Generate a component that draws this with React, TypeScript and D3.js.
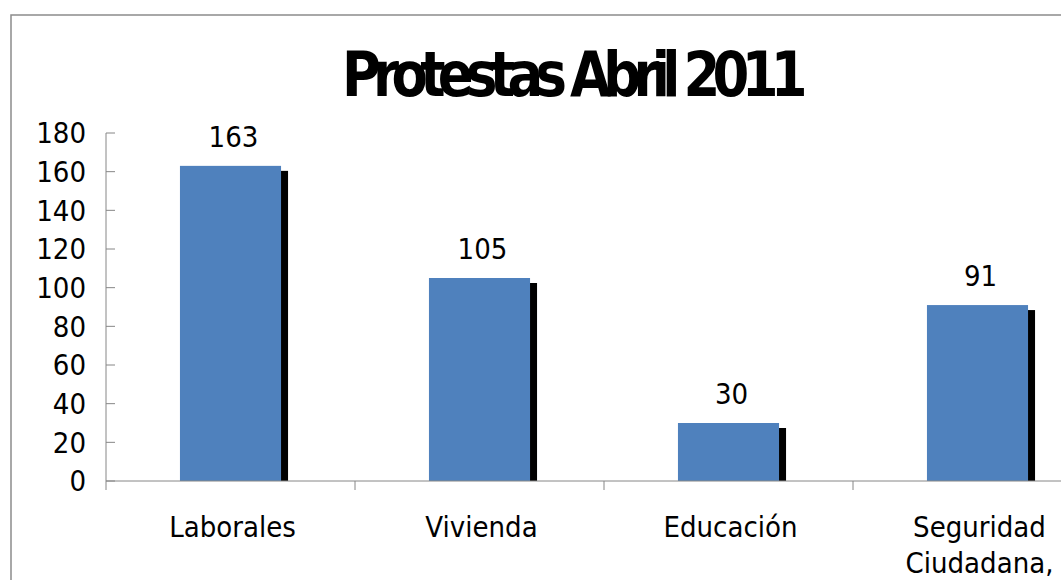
import * as d3 from "d3";
import { useEffect, useRef } from "react";

const categories = ["Laborales", "Vivienda", "Educación", "Seguridad Ciudadana,"];
const categoryLines = [["Laborales"], ["Vivienda"], ["Educación"], ["Seguridad", "Ciudadana,"]];
const values = [163, 105, 30, 91];
const yTicks = [0, 20, 40, 60, 80, 100, 120, 140, 160, 180];
const title = "Protestas Abril 2011";

const font = "'DejaVu Sans Condensed', 'DejaVu Sans', sans-serif";

const App = () => {
  const ref = useRef<SVGSVGElement>(null);

  useEffect(() => {
    const width = 1061,
      height = 580;
    const left = 106,
      top = 133,
      bottom = 481,
      step = 249;

    const svg = d3.select(ref.current);
    svg.selectAll("*").remove();

    // chart frame
    svg.append("rect")
      .attr("x", 11)
      .attr("y", 15)
      .attr("width", width + 20)
      .attr("height", height + 20)
      .attr("fill", "white")
      .attr("stroke", "#8c8c8c")
      .attr("stroke-width", 1.5);

    svg.append("text")
      .attr("x", 342)
      .attr("y", 96)
      .attr("textLength", 458)
      .attr("lengthAdjust", "spacingAndGlyphs")
      .attr("font-family", "'DejaVu Sans', sans-serif")
      .attr("font-weight", "bold")
      .attr("font-size", 62)
      .attr("letter-spacing", -9)
      .attr("fill", "black")
      .text(title);

    var x = d3.scaleBand()
      .domain(categories)
      .range([left, left + step * categories.length])
      .paddingInner(0.594)
      .paddingOuter(0.297);

    var y = d3.scaleLinear()
      .domain([0, 180])
      .range([bottom, top]);

    // y axis
    svg.append("line")
      .attr("x1", left).attr("x2", left)
      .attr("y1", y(180)).attr("y2", y(0))
      .attr("stroke", "#868686");
    svg.selectAll(".ytick")
      .data(yTicks)
      .enter().append("line")
      .attr("x1", left).attr("x2", left + 9)
      .attr("y1", d => y(d)).attr("y2", d => y(d))
      .attr("stroke", "#868686");
    svg.selectAll(".ylabel")
      .data(yTicks)
      .enter().append("text")
      .attr("x", 86)
      .attr("y", d => y(d))
      .attr("dy", "0.36em")
      .attr("text-anchor", "end")
      .attr("font-family", font)
      .attr("font-stretch", "condensed")
      .attr("font-size", 29)
      .attr("fill", "black")
      .text(d => d);

    const cats = categories.map((c, i) => ({ c, v: values[i], lines: categoryLines[i] }));

    // shadows then bars
    svg.selectAll(".shadow")
      .data(cats)
      .enter().append("rect")
      .attr("x", d => x(d.c)! + 7)
      .attr("y", d => y(d.v) + 5)
      .attr("width", x.bandwidth())
      .attr("height", d => y(0) - y(d.v) - 5)
      .attr("fill", "black");
    svg.selectAll(".bar")
      .data(cats)
      .enter().append("rect")
      .attr("x", d => x(d.c)!)
      .attr("y", d => y(d.v))
      .attr("width", x.bandwidth())
      .attr("height", d => y(0) - y(d.v))
      .attr("fill", "#4f81bd");

    svg.selectAll(".value")
      .data(cats)
      .enter().append("text")
      .attr("x", d => x(d.c)! + x.bandwidth() / 2 + 3)
      .attr("y", d => y(d.v) - 19)
      .attr("text-anchor", "middle")
      .attr("font-family", font)
      .attr("font-stretch", "condensed")
      .attr("font-size", 29)
      .attr("fill", "black")
      .text(d => d.v);

    // x axis
    svg.append("line")
      .attr("x1", left).attr("x2", width + 20)
      .attr("y1", bottom).attr("y2", bottom)
      .attr("stroke", "#868686");
    svg.selectAll(".xtick")
      .data(d3.range(categories.length + 1))
      .enter().append("line")
      .attr("x1", i => left + step * i).attr("x2", i => left + step * i)
      .attr("y1", bottom).attr("y2", bottom + 9)
      .attr("stroke", "#868686");

    const labels = svg.selectAll(".xlabel")
      .data(cats)
      .enter().append("text")
      .attr("text-anchor", "middle")
      .attr("font-family", font)
      .attr("font-stretch", "condensed")
      .attr("font-size", 29)
      .attr("fill", "black");
    labels.selectAll("tspan")
      .data(d => d.lines.map(l => ({ l, cx: x(d.c)! + x.bandwidth() / 2 + 2 })))
      .enter().append("tspan")
      .attr("x", d => d.cx)
      .attr("y", (d, i) => 537 + i * 36)
      .text(d => d.l);
  }, []);

  return (
    <svg
      ref={ref}
      width={1061}
      height={580}
      style={{ position: "absolute", left: 0, top: 0, background: "white" }}
    />
  );
};

export default App;
